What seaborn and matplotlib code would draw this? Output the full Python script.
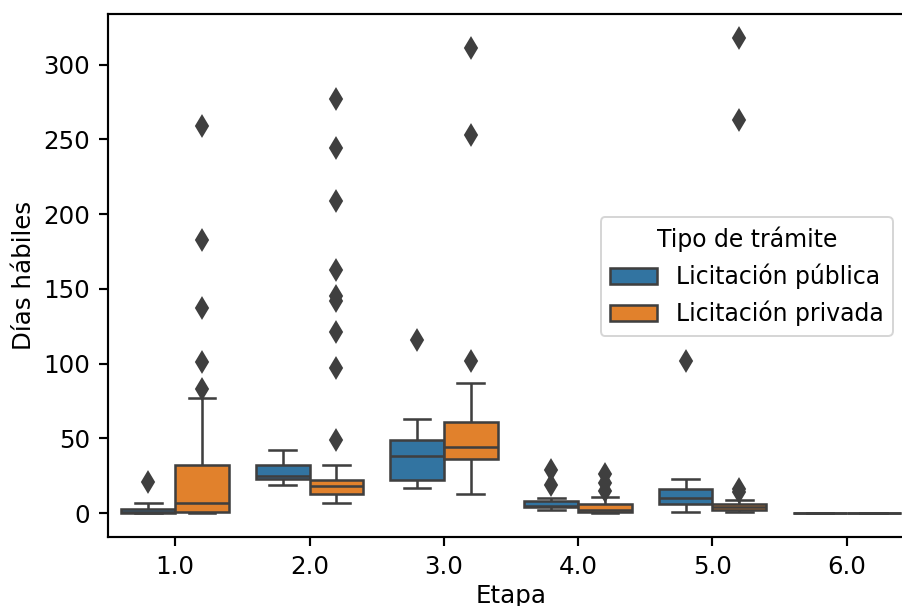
import matplotlib
matplotlib.use("Agg")
import matplotlib.pyplot as plt
import seaborn as sns
import pandas as pd

# Categories
etapas = [1.0, 2.0, 3.0, 4.0, 5.0, 6.0]
tipos = ["Licitación pública", "Licitación privada"]

publica_1 = [0, 0, 0, 0, 1, 2, 3, 7, 21]
privada_1 = [0, 0, 0, 0, 1, 1, 1, 2, 3, 4, 5, 6, 7, 9, 12, 16, 21, 27, 32,
             77, 83, 101, 137, 183, 259]
publica_2 = [19, 21, 23, 24, 25, 29, 32, 36, 42]
privada_2 = [7, 8, 9, 10, 10, 11, 11, 12, 12, 13, 13, 14, 14, 15, 15, 16, 16,
             17, 17, 18, 18, 18, 19, 19, 20, 20, 21, 21, 22, 22, 22, 32,
             49, 97, 121, 142, 145, 163, 209, 244, 277]
publica_3 = [17, 20, 22, 30, 38, 44, 49, 63, 116]
privada_3 = [13, 22, 29, 33, 36, 39, 41, 43, 44, 48, 52, 57, 61, 87,
             102, 253, 311]
publica_4 = [2, 3, 3, 4, 4, 4, 5, 6, 7, 8, 10, 19, 29]
privada_4 = [0, 0, 0, 1, 1, 1, 1, 2, 2, 3, 4, 5, 6, 11, 15, 20, 26]
publica_5 = [1, 4, 6, 8, 10, 13, 16, 23, 102]
privada_5 = [1, 1, 1, 2, 2, 2, 3, 3, 3, 4, 4, 4, 5, 5, 5, 6, 9, 14, 16,
             263, 318]
publica_6 = [0, 0, 0]
privada_6 = [0, 0, 0]

groups = [
    (etapas[0], tipos[0], publica_1), (etapas[0], tipos[1], privada_1),
    (etapas[1], tipos[0], publica_2), (etapas[1], tipos[1], privada_2),
    (etapas[2], tipos[0], publica_3), (etapas[2], tipos[1], privada_3),
    (etapas[3], tipos[0], publica_4), (etapas[3], tipos[1], privada_4),
    (etapas[4], tipos[0], publica_5), (etapas[4], tipos[1], privada_5),
    (etapas[5], tipos[0], publica_6), (etapas[5], tipos[1], privada_6),
]
rows = []
for et, tp, vals in groups:
    for v in vals:
        rows.append({"Etapa": et, "Tipo de trámite": tp, "Días hábiles": v})
df = pd.DataFrame(rows)

plt.rcParams.update({
    "font.size": 12.5,
    "axes.linewidth": 1.1,
    "xtick.major.size": 4.5,
    "ytick.major.size": 4.5,
    "xtick.major.width": 1.1,
    "ytick.major.width": 1.1,
    "xtick.major.pad": 4.5,
    "ytick.major.pad": 4.5,
})

DPI = 141
fig = plt.figure(figsize=(902 / DPI, 606 / DPI), dpi=DPI)
ax = fig.add_axes([108 / 902, 1 - 537 / 606, (914 - 108) / 902, (537 - 14) / 606])

line_gray = "#3f3f3f"
sns.boxplot(
    data=df, x="Etapa", y="Días hábiles", hue="Tipo de trámite",
    hue_order=tipos, order=etapas,
    palette=["#1f77b4", "#ff7f0e"], saturation=0.75,
    linecolor=line_gray, linewidth=1.3, fliersize=7,
    flierprops=dict(marker="d", markerfacecolor=line_gray,
                    markeredgecolor=line_gray),
    ax=ax,
)
ax.set_xlabel("Etapa", labelpad=2.5)
ax.set_ylabel("Días hábiles")

leg = ax.get_legend()
handles = leg.legend_handles
labels = [t.get_text() for t in leg.get_texts()]
leg.remove()
ax.legend(handles, labels, title="Tipo de trámite", loc="upper right",
          fontsize=12, title_fontsize=12, borderaxespad=0,
          bbox_to_anchor=(893 / 902, 1 - 217 / 606),
          bbox_transform=fig.transFigure)

fig.savefig("out.png", dpi=DPI)
